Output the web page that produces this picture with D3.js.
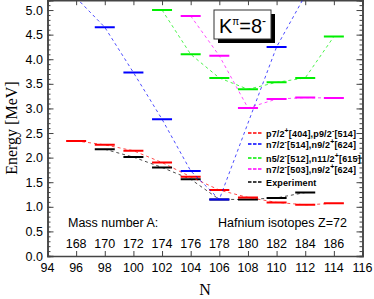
<!DOCTYPE html>
<html>
<head>
<meta charset="utf-8">
<script src="https://cdn.jsdelivr.net/npm/d3@7"></script>
<style>
  body { margin: 0; background: #fff; }
  text { font-family: "Liberation Sans", Arial, sans-serif; }
</style>
</head>
<body>
<svg id="chart"></svg>
<script>
// level energies (MeV) per neutron number N
const nRed = [96, 98, 100, 102, 104, 106, 108, 110, 112, 114];
const eRed = [2.34, 2.26, 2.14, 1.90, 1.61, 1.34, 1.19, 1.09, 1.04, 1.07];
const nBlue = [96, 98, 100, 102, 104, 106, 110, 112];
const eBlue = [5.25, 4.65, 3.73, 2.78, 1.73, 1.15, 4.25, 5.3];
const nGreen = [102, 104, 106, 108, 110, 112, 114];
const eGreen = [5.0, 4.1, 3.62, 3.39, 3.53, 3.62, 4.46];
const nMagenta = [104, 106, 108, 110, 112, 114];
const eMagenta = [4.88, 4.07, 3.01, 3.19, 3.22, 3.21];
const nExp = [98, 100, 102, 104, 106, 108, 110, 112];
const eExp = [2.17, 2.01, 1.80, 1.56, 1.15, 1.15, 1.18, 1.29];

const massN = [96, 98, 100, 102, 104, 106, 108, 110, 112, 114];
const massA = [168, 170, 172, 174, 176, 178, 180, 182, 184, 186];

const xTicks = d3.range(94, 117, 2);
const yTicks = d3.range(0, 5.01, 0.5);

const width = 374, height = 299;
const svg = d3.select("#chart").attr("width", width).attr("height", height);

const x = d3.scaleLinear().domain([94, 116]).range([47.5, 362.5]);
const y = d3.scaleLinear().domain([0, 5.2]).range([256, 0.2]);

svg.append("clipPath").attr("id", "clip")
    .append("rect")
    .attr("x", x(94)).attr("y", y(5.2))
    .attr("width", x(116) - x(94)).attr("height", y(0) - y(5.2));

// axes (ticks pointing inward)
const yMinor = d3.range(0, 5.21, 0.1);
svg.append("g").attr("transform", `translate(${x(94)},0)`)
    .call(d3.axisRight(y).tickValues(yMinor).tickSize(3).tickFormat(""));
svg.append("g").attr("transform", `translate(${x(94)},0)`)
    .call(d3.axisRight(y).tickValues(yTicks).tickSize(6).tickFormat(""));
svg.append("g").attr("transform", `translate(${x(116)},0)`)
    .call(d3.axisLeft(y).tickValues(yMinor).tickSize(3).tickFormat(""));
svg.append("g").attr("transform", `translate(${x(116)},0)`)
    .call(d3.axisLeft(y).tickValues(yTicks).tickSize(6).tickFormat(""));
svg.append("g").attr("transform", `translate(0,${y(0)})`)
    .call(d3.axisTop(x).tickValues(xTicks).tickSize(5).tickFormat(""));
svg.append("g").attr("transform", `translate(0,${y(5.2)})`)
    .call(d3.axisBottom(x).tickValues(xTicks).tickSize(5).tickFormat(""));
svg.selectAll(".domain").attr("stroke", "#444").attr("stroke-width", 1.5);
svg.selectAll(".tick line").attr("stroke", "#444");

// tick labels
svg.append("g").selectAll("text").data(yTicks).enter().append("text")
    .attr("x", 43).attr("y", d => y(d) + 4.5)
    .attr("text-anchor", "end").attr("font-size", 12.5)
    .text(d => d.toFixed(1));
svg.append("g").selectAll("text").data(xTicks).enter().append("text")
    .attr("x", d => x(d)).attr("y", 272)
    .attr("text-anchor", "middle").attr("font-size", 12.5)
    .text(d => d);

// mass numbers
svg.append("g").selectAll("text").data(massN).enter().append("text")
    .attr("x", d => x(d)).attr("y", 248)
    .attr("text-anchor", "middle").attr("font-size", 12.5)
    .text((d, i) => massA[i]);
svg.append("text").attr("x", 68).attr("y", 227).attr("font-size", 12.5)
    .text("Mass number A:");
svg.append("text").attr("x", 218).attr("y", 227).attr("font-size", 12.5)
    .text("Hafnium isotopes Z=72");

// axis titles
svg.append("text").attr("x", x(105)).attr("y", 295)
    .attr("text-anchor", "middle").attr("font-size", 16)
    .style("font-family", "'Liberation Serif', 'Times New Roman', serif")
    .text("N");
svg.append("text")
    .attr("transform", `translate(17,${y(2.6)}) rotate(-90)`)
    .attr("text-anchor", "middle").attr("font-size", 16)
    .style("font-family", "'Liberation Serif', 'Times New Roman', serif")
    .text("Energy [MeV]");

// series
const series = [
    { n: nExp, e: eExp, color: "#000000" },
    { n: nRed, e: eRed, color: "#ff0000" },
    { n: nBlue, e: eBlue, color: "#0000ff" },
    { n: nGreen, e: eGreen, color: "#00ee00" },
    { n: nMagenta, e: eMagenta, color: "#ff00ff" }
];

const plot = svg.append("g").attr("clip-path", "url(#clip)");
const line = d3.line().x(d => x(d[0])).y(d => y(d[1]));

series.forEach(function(s) {
    const pts = s.n.map((v, i) => [v, s.e[i]]);
    plot.append("path")
        .attr("d", line(pts))
        .attr("fill", "none")
        .attr("stroke", s.color)
        .attr("stroke-width", 1)
        .attr("stroke-dasharray", "3,3")
        .attr("opacity", 0.7);
    plot.selectAll(null).data(pts).enter().append("line")
        .attr("x1", d => x(d[0]) - 10).attr("x2", d => x(d[0]) + 10)
        .attr("y1", d => y(d[1])).attr("y2", d => y(d[1]))
        .attr("stroke", s.color)
        .attr("stroke-width", 2);
});

// K^pi box
svg.append("rect").attr("x", 218).attr("y", 14).attr("width", 57).attr("height", 29)
    .attr("fill", "#000");
svg.append("rect").attr("x", 214).attr("y", 10).attr("width", 57).attr("height", 29)
    .attr("fill", "#fff").attr("stroke", "#333").attr("stroke-width", 1);
const kText = svg.append("text").attr("x", 219).attr("y", 33).attr("font-size", 20);
kText.append("tspan").text("K");
kText.append("tspan").attr("font-size", 10).attr("dy", -8).text("\u03c0");
kText.append("tspan").attr("dy", 8).text("=8");
kText.append("tspan").attr("font-size", 12).attr("dy", -8).text("-");

// legend
const legendItems = [
    { color: "#ff0000", y: 133, parts: [["p7/2", 0], ["+", 1], ["[404],p9/2", 0], ["-", 1], ["[514]", 0]] },
    { color: "#0000ff", y: 144, parts: [["n7/2", 0], ["-", 1], ["[514],n9/2", 0], ["+", 1], ["[624]", 0]] },
    { color: "#00ee00", y: 158, parts: [["n5/2", 0], ["-", 1], ["[512],n11/2", 0], ["+", 1], ["[615]", 0]] },
    { color: "#ff00ff", y: 169, parts: [["n7/2", 0], ["-", 1], ["[503],n9/2", 0], ["+", 1], ["[624]", 0]] },
    { color: "#000000", y: 182, parts: [["Experiment", 0]] }
];
const legend = svg.append("g");
legendItems.forEach(function(item) {
    legend.append("line")
        .attr("x1", 248).attr("x2", 262)
        .attr("y1", item.y).attr("y2", item.y)
        .attr("stroke", item.color).attr("stroke-width", 1.5)
        .attr("stroke-dasharray", "3.5,1.5");
    const t = legend.append("text").attr("x", 266).attr("y", item.y + 3.5)
        .attr("font-size", 9).attr("font-weight", "bold")
        .attr("letter-spacing", 0.15);
    let up = false;
    item.parts.forEach(function(p) {
        const sp = t.append("tspan").text(p[0]);
        if (p[1] && !up) { sp.attr("dy", -4).attr("font-size", 7); up = true; }
        else if (!p[1] && up) { sp.attr("dy", 4); up = false; }
    });
});
</script>
</body>
</html>
